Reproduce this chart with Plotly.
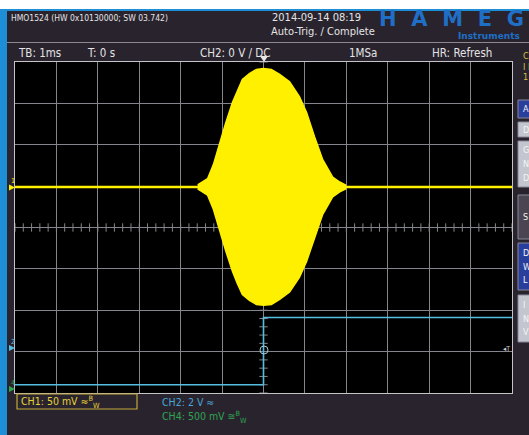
import plotly.graph_objects as go
import numpy as np

# ---------------- data ----------------
# CH1: RF burst envelope (peak amplitude, mV) versus time (ms), 50 mV/div
burst_time_ms = [-1.59, -1.47, -1.35, -1.21, -1.06, -0.92, -0.75, -0.63, -0.51, -0.34, -0.17,
                 0.00, 0.19, 0.39, 0.63, 0.87, 1.04, 1.23, 1.43, 1.67, 1.84, 1.98]
burst_env_mv = [2.4, 6, 10, 27, 53, 76, 102, 117, 130, 137, 142,
                143, 142, 136, 127, 109, 90, 61, 33, 12, 6, 2.4]
ch1_scale_mv = 50.0
ch1_position_div = 0.98

# CH2: gate signal (V), 2 V/div
ch2_time_ms = [-6.0, 0.0, 0.0, 6.0]
ch2_volts = [-1.6, -1.6, 1.65, 1.65]
ch2_scale_v = 2.0
ch2_position_div = -3.0

time_range_ms = [-6, 6]     # TB 1 ms/div, 12 divisions
div_range = [-4, 4]         # 8 vertical divisions

header_left = "HMO1524 (HW 0x10130000; SW 03.742)"
header_date = "2014-09-14 08:19"
header_trig = "Auto-Trig. / Complete"
status_items = [("TB: 1ms", 16), ("T: 0 s", 85), ("CH2: 0 V / DC", 198), ("1MSa", 347), ("HR: Refresh", 430)]

# ---------------- geometry / style ----------------
W, H = 529, 435
X0, X1, Y0, Y1 = 15, 512, 62, 393
BG = "#29232e"
GRID = "#85858d"
FRAME = "#c4c4c8"
YEL = "#fff000"
BLUE = "#55bde0"
GREEN = "#2fa552"
FONT = "DejaVu Sans Condensed, Liberation Sans Narrow, Liberation Sans, sans-serif"
LOGO_BLUE = "#1f6fc6"


def px(x):
    return x / W


def py(y):
    return 1 - y / H


fig = go.Figure()

# graticule centre-line ticks (0.2 div)
tx = np.arange(-6, 6.001, 0.2)
fig.add_trace(go.Scatter(x=tx, y=np.zeros_like(tx), mode="markers", hoverinfo="skip",
                         marker=dict(symbol="line-ns", size=6, line=dict(color=GRID, width=1))))
ty = np.arange(-4, 4.001, 0.2)
fig.add_trace(go.Scatter(x=np.zeros_like(ty), y=ty, mode="markers", hoverinfo="skip",
                         marker=dict(symbol="line-ew", size=6, line=dict(color=GRID, width=1))))

# CH2 trace
ch2_y = [ch2_position_div + v / ch2_scale_v for v in ch2_volts]
fig.add_trace(go.Scatter(x=ch2_time_ms, y=ch2_y, mode="lines", hoverinfo="skip",
                         line=dict(color=BLUE, width=1.6)))

# CH1 baseline and burst
base = ch1_position_div
fig.add_trace(go.Scatter(x=time_range_ms, y=[base, base], mode="lines", hoverinfo="skip",
                         line=dict(color=YEL, width=2.6)))
upper = [base + a / ch1_scale_mv for a in burst_env_mv]
lower = [base - a / ch1_scale_mv for a in burst_env_mv]
fig.add_trace(go.Scatter(x=burst_time_ms + burst_time_ms[::-1], y=upper + lower[::-1],
                         mode="lines", fill="toself", fillcolor=YEL, hoverinfo="skip",
                         line=dict(color=YEL, width=1.5)))

shapes = []
# top white strip, blue rule and left blue border
shapes.append(dict(type="rect", xref="paper", yref="paper", x0=0, x1=1, y0=py(9), y1=1,
                   fillcolor="#ffffff", line=dict(width=0)))
shapes.append(dict(type="rect", xref="paper", yref="paper", x0=0, x1=1, y0=py(11), y1=py(9),
                   fillcolor="#1e8fd6", line=dict(width=0)))
shapes.append(dict(type="rect", xref="paper", yref="paper", x0=0, x1=px(7), y0=0, y1=py(9),
                   fillcolor="#1e8fd6", line=dict(width=0)))
# header separator
shapes.append(dict(type="line", xref="paper", yref="paper", x0=px(7), x1=1, y0=py(42.5), y1=py(42.5),
                   line=dict(color="#8d8892", width=1)))
# CH1 status box
shapes.append(dict(type="rect", xref="paper", yref="paper", x0=px(17), x1=px(137), y0=py(409), y1=py(394),
                   line=dict(color="#c2a838", width=1.2)))
# trigger position marker (top)
shapes.append(dict(type="path", xref="paper", yref="paper",
                   path=f"M {px(260)},{py(56)} L {px(268)},{py(56)} L {px(264)},{py(62)} Z",
                   fillcolor="#e8e8e8", line=dict(width=0)))
# trigger point ring
shapes.append(dict(type="circle", xref="paper", yref="paper", x0=px(260), x1=px(268), y0=py(354), y1=py(346),
                   line=dict(color="#a4c8d6", width=1)))
# channel ground markers on the left
for yc, col in [(187.5, YEL), (348, BLUE), (389, GREEN)]:
    shapes.append(dict(type="path", xref="paper", yref="paper",
                       path=f"M {px(9)},{py(yc-3)} L {px(15)},{py(yc)} L {px(9)},{py(yc+3)} Z",
                       fillcolor=col, line=dict(width=0)))
# soft-key buttons on the right edge
buttons = [(100, 118, "#2a3f9c", ["Ac"]), (122, 137, "#c3c6ce", ["Dc"]),
           (141, 187, "#c3c6ce", ["G", "N", "D"]), (195, 239, "#4a4551", ["S"]),
           (243, 290, "#2a3f9c", ["D", "W", "L"]), (295, 342, "#c3c6ce", ["I", "N", "V"])]
for y_top, y_bot, col, _ in buttons:
    shapes.append(dict(type="rect", xref="paper", yref="paper", x0=px(518), x1=px(540),
                       y0=py(y_bot), y1=py(y_top), fillcolor=col, line=dict(color="#8a8a98", width=1)))

annotations = []


def text(x, y, s, size=10, color="#e4e4e4", family=FONT, anchor="left", weight=None):
    font = dict(size=size, color=color, family=family)
    if weight:
        font["weight"] = weight
    annotations.append(dict(x=px(x), y=py(y), xref="paper", yref="paper", text=s, showarrow=False,
                            xanchor=anchor, yanchor="middle", font=font))


text(9, 18, header_left, size=8.5)
text(270, 17.5, header_date, size=11)
text(269, 31.5, header_trig, size=11)
for s, x in status_items:
    text(x, 52.5, s, size=11.5)
# maker logo
text(377, 19.5, "H\u2002\u2009A\u2002\u2009M\u2002\u2009E\u2002\u2009G", size=21, color=LOGO_BLUE,
     family="DejaVu Sans, sans-serif", weight="bold")
text(456, 36, "Instruments", size=9, color=LOGO_BLUE, family="DejaVu Sans, sans-serif", weight="bold")

# bottom channel status
text(19, 401.5, "CH1: 50 mV ≈<sup>B</sup><sub>W</sub>", size=10.5, color="#e6d23a")
text(160, 401.5, "CH2: 2 V ≈", size=10.5, color="#4aa6d6")
text(160, 417, "CH4: 500 mV ≅<sup>B</sup><sub>W</sub>", size=10.5, color=GREEN)

# channel numbers beside ground markers
text(9, 181, "1", size=7, color=YEL)
text(9, 342, "2", size=7, color=BLUE)
text(9, 383, "4", size=7, color=GREEN)
text(501, 349, "◂T", size=7, color="#cfcfcf")

# right-hand info and button labels
for y, s in [(56, "C"), (67, "I I"), (77, "1")]:
    text(521, y, s, size=9, color="#d6c040")
for y_top, y_bot, col, labels in buttons:
    n = len(labels)
    step = (y_bot - y_top) / (n + 0.4)
    for i, lab in enumerate(labels):
        text(521, y_top + step * (i + 0.7), lab, size=9, color="#f4f4f6")

fig.update_layout(
    width=W, height=H, margin=dict(l=0, r=0, t=0, b=0),
    paper_bgcolor=BG, plot_bgcolor="#000000", showlegend=False,
    shapes=shapes, annotations=annotations,
    xaxis=dict(domain=[px(X0), px(X1)], range=time_range_ms, dtick=1, tick0=0,
               showgrid=True, gridcolor=GRID, gridwidth=1, zeroline=False,
               showticklabels=False, ticks="", showline=True, mirror=True, linecolor=FRAME, linewidth=1,
               fixedrange=True),
    yaxis=dict(domain=[py(Y1), py(Y0)], range=div_range, dtick=1, tick0=0,
               showgrid=True, gridcolor=GRID, gridwidth=1, zeroline=False,
               showticklabels=False, ticks="", showline=True, mirror=True, linecolor=FRAME, linewidth=1,
               fixedrange=True),
)

fig.write_html("out.html")
